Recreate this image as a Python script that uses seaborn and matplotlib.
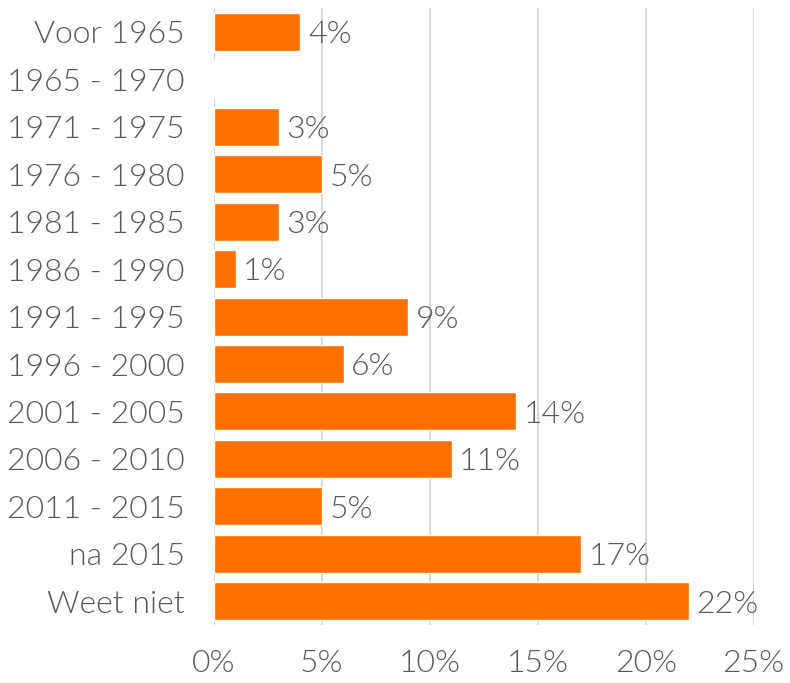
import matplotlib
matplotlib.use("Agg")
import matplotlib.pyplot as plt
import seaborn as sns
import pandas as pd

# data
periods = ["Voor 1965", "1965 - 1970", "1971 - 1975", "1976 - 1980", "1981 - 1985",
           "1986 - 1990", "1991 - 1995", "1996 - 2000", "2001 - 2005", "2006 - 2010",
           "2011 - 2015", "na 2015", "Weet niet"]
shares = [4, 0, 3, 5, 3, 1, 9, 6, 14, 11, 5, 17, 22]
x_ticks = [0, 5, 10, 15, 20, 25]

df = pd.DataFrame({"periode": periods, "aandeel": shares})

sns.set_style("white")
plt.rcParams["font.family"] = ["Lato", "DejaVu Sans"]
plt.rcParams["font.weight"] = 300
text_color = "#595959"
bar_color = "#FF7000"

fig = plt.figure(figsize=(7.9, 6.83), dpi=100)
ax = fig.add_axes([0.271, 0.085, 0.683, 0.903])

sns.barplot(data=df, x="aandeel", y="periode", orient="h", color=bar_color,
            saturation=1, width=0.8, ax=ax)

# value labels at end of bars (skip empty)
for i, v in enumerate(shares):
    if v > 0:
        ax.text(v + 0.35, i + 0.06, f"{v}%", va="center", ha="left",
                fontsize=23, color=text_color)

ax.set_xlim(0, 25)
ax.set_xticks(x_ticks)
ax.set_xticklabels([f"{t}%" for t in x_ticks])
ax.set_xlabel("")
ax.set_ylabel("")
ax.grid(axis="x", color="#D9D9D9", linewidth=1.5)
ax.set_axisbelow(True)
for s in ax.spines.values():
    s.set_visible(False)
ax.tick_params(axis="both", length=0, labelsize=23, labelcolor=text_color)
ax.tick_params(axis="x", pad=17)
ax.tick_params(axis="y", pad=21)

fig.savefig("out.png", dpi=100)
